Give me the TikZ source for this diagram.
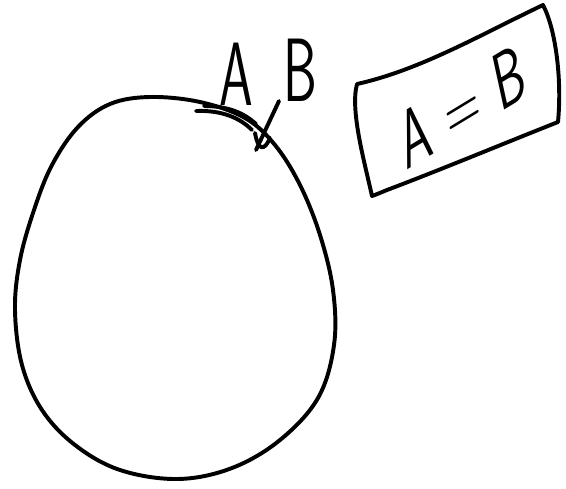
\documentclass[tikz,border=0pt]{standalone}
\usetikzlibrary{positioning}

\begin{document}
\begin{tikzpicture}[x=0.025cm,y=-0.025cm]
\tikzset{
  ink/.style={line width=2.8pt,line cap=round,line join=round},
  handtext/.style={font=\sffamily\fontsize{64}{64}\selectfont,inner sep=0pt,xscale=0.6},
  boxtext/.style={font=\sffamily\fontsize{58}{58}\selectfont,inner sep=0pt,xscale=0.6,rotate=20}
}
\useasboundingbox (0,0) rectangle (566,488);
% the big closed curve
\draw[ink] plot[smooth cycle,tension=0.6] coordinates {
  (150,97) (110,104) (78,127) (52,165) (34,210) (20,260) (15,310)
  (22,365) (42,410) (75,445) (120,470) (178,479) (232,468) (280,440)
  (318,398) (334,345) (333,290) (320,235) (300,185) (275,145) (245,118) (200,102)};
% labels of the two points
\node[handtext] (a_lbl) at (236,74) {A};
\node[handtext] (b_lbl) at (300,70) {B};
% mark at A
\draw[ink] (196,111) .. controls (222,110) and (240,118) .. (252,130);
\draw[ink] (204,106) .. controls (228,106) and (244,113) .. (256,124);
% cross at B
\draw[ink] (279,101) -- (256,150);
\draw[ink] (255,133) .. controls (258,150) and (264,152) .. (270,138);
% the boxed statement
\node[boxtext] (eq) at (462,106) {A\hspace{0.35em}=\hspace{0.35em}B};
\draw[ink] (357,84) .. controls (420,70) and (480,35) .. (543,5)
  .. controls (556,30) and (562,80) .. (558,122)
  .. controls (500,145) and (440,170) .. (387,190)
  .. controls (375,195) and (372,196) .. (372,196)
  .. controls (364,160) and (350,110) .. (357,84);
\end{tikzpicture}
\end{document}
